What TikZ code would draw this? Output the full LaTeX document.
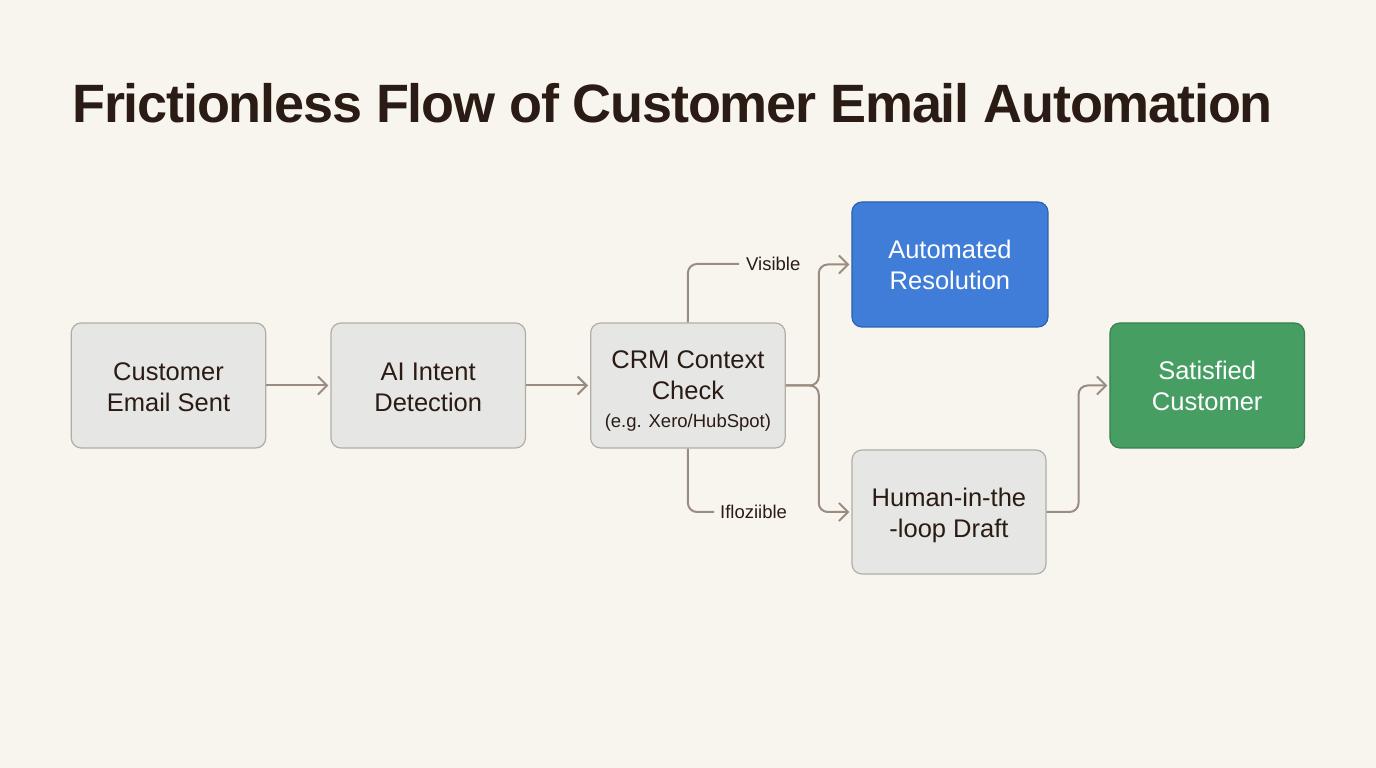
\documentclass[tikz,border=0pt]{standalone}
\usepackage{fontspec}
\setmainfont{Liberation Sans}
\usetikzlibrary{positioning,arrows.meta}
\definecolor{paperbg}{HTML}{F8F5EF}
\definecolor{inkdrk}{HTML}{2A1C14}
\definecolor{flowline}{HTML}{9A8C80}
\definecolor{boxgray}{HTML}{E6E6E4}
\definecolor{boxedge}{HTML}{B0AEA6}
\definecolor{autoblue}{HTML}{3F7DD8}
\definecolor{autoedge}{HTML}{2E62AE}
\definecolor{donegreen}{HTML}{479E63}
\definecolor{doneedge}{HTML}{3B7F50}
\newcommand{\toppad}[1]{\rule{0pt}{#1pt}}
\tikzset{
	flowbox/.style={rectangle, draw=boxedge, fill=boxgray, line width=1.2pt, rounded corners=10pt, minimum width=194.5pt, minimum height=125pt, align=center, text=inkdrk, font=\fontsize{25.5}{31}\selectfont, inner sep=0pt},
	flow/.style={draw=flowline, line width=2pt, rounded corners=9pt},
	flowarrow/.style={flow, -{Straight Barb[length=9pt, width=18pt, line width=2pt]}, shorten >=2pt},
	branchlabel/.style={text=inkdrk, font=\fontsize{18.5}{20}\selectfont, inner sep=0pt},
}
\begin{document}
\begin{tikzpicture}[x=1pt, y=1pt]
	\fill[paperbg] (0,0) rectangle (1376,768);
	\useasboundingbox (0,0) rectangle (1376,768);

	\node[anchor=west, inner sep=0pt, text=inkdrk, font=\fontsize{54}{60}\selectfont\bfseries\addfontfeature{LetterSpace=-2.2}] (title) at (72,665) {Frictionless Flow of Customer Email Automation};

	\node[flowbox] (sent) at (168.5,382.5) {\toppad{22}Customer\\Email Sent};
	\node[flowbox, right=64pt of sent] (intent) {\toppad{22}AI Intent\\Detection};
	\node[flowbox, right=64pt of intent] (crm) {\toppad{28}CRM Context\\Check\\[-3pt]{\fontsize{18.5}{22}\selectfont (e.g. Xero/HubSpot)}};
	\node[flowbox, minimum width=196pt, draw=autoedge, fill=autoblue, text=white, above right=-5.2pt and 65.6pt of crm] (auto) {Automated\\Resolution};
	\node[flowbox, minimum width=194pt, minimum height=124pt, below right=0.8pt and 65.6pt of crm] (draft) {\toppad{26}Human-in-the\\-loop Draft};
	\node[flowbox, draw=doneedge, fill=donegreen, text=white, below right=-5.2pt and 60.8pt of auto] (done) {\toppad{20}Satisfied\\Customer};

	\node[branchlabel, anchor=west] (vis) at (746,504) {Visible};
	\node[branchlabel, anchor=west] (infeas) at (720,256) {Ifloziible};

	\coordinate[right=33pt of crm.east] (split);
	\coordinate[right=32pt of draft.east] (merge);

	\draw[flowarrow] (sent) -- (intent);
	\draw[flowarrow] (intent) -- (crm);
	\draw[flow] (crm.north) |- ([xshift=-7pt]vis.west);
	\draw[flow] (crm.south) |- ([xshift=-6pt]infeas.west);
	\draw[flowarrow] (crm.east) -- (split) |- (auto.west);
	\draw[flowarrow] (crm.east) -- (split) |- (draft.west);
	\draw[flowarrow] (draft.east) -- (merge) |- (done.west);
\end{tikzpicture}
\end{document}
